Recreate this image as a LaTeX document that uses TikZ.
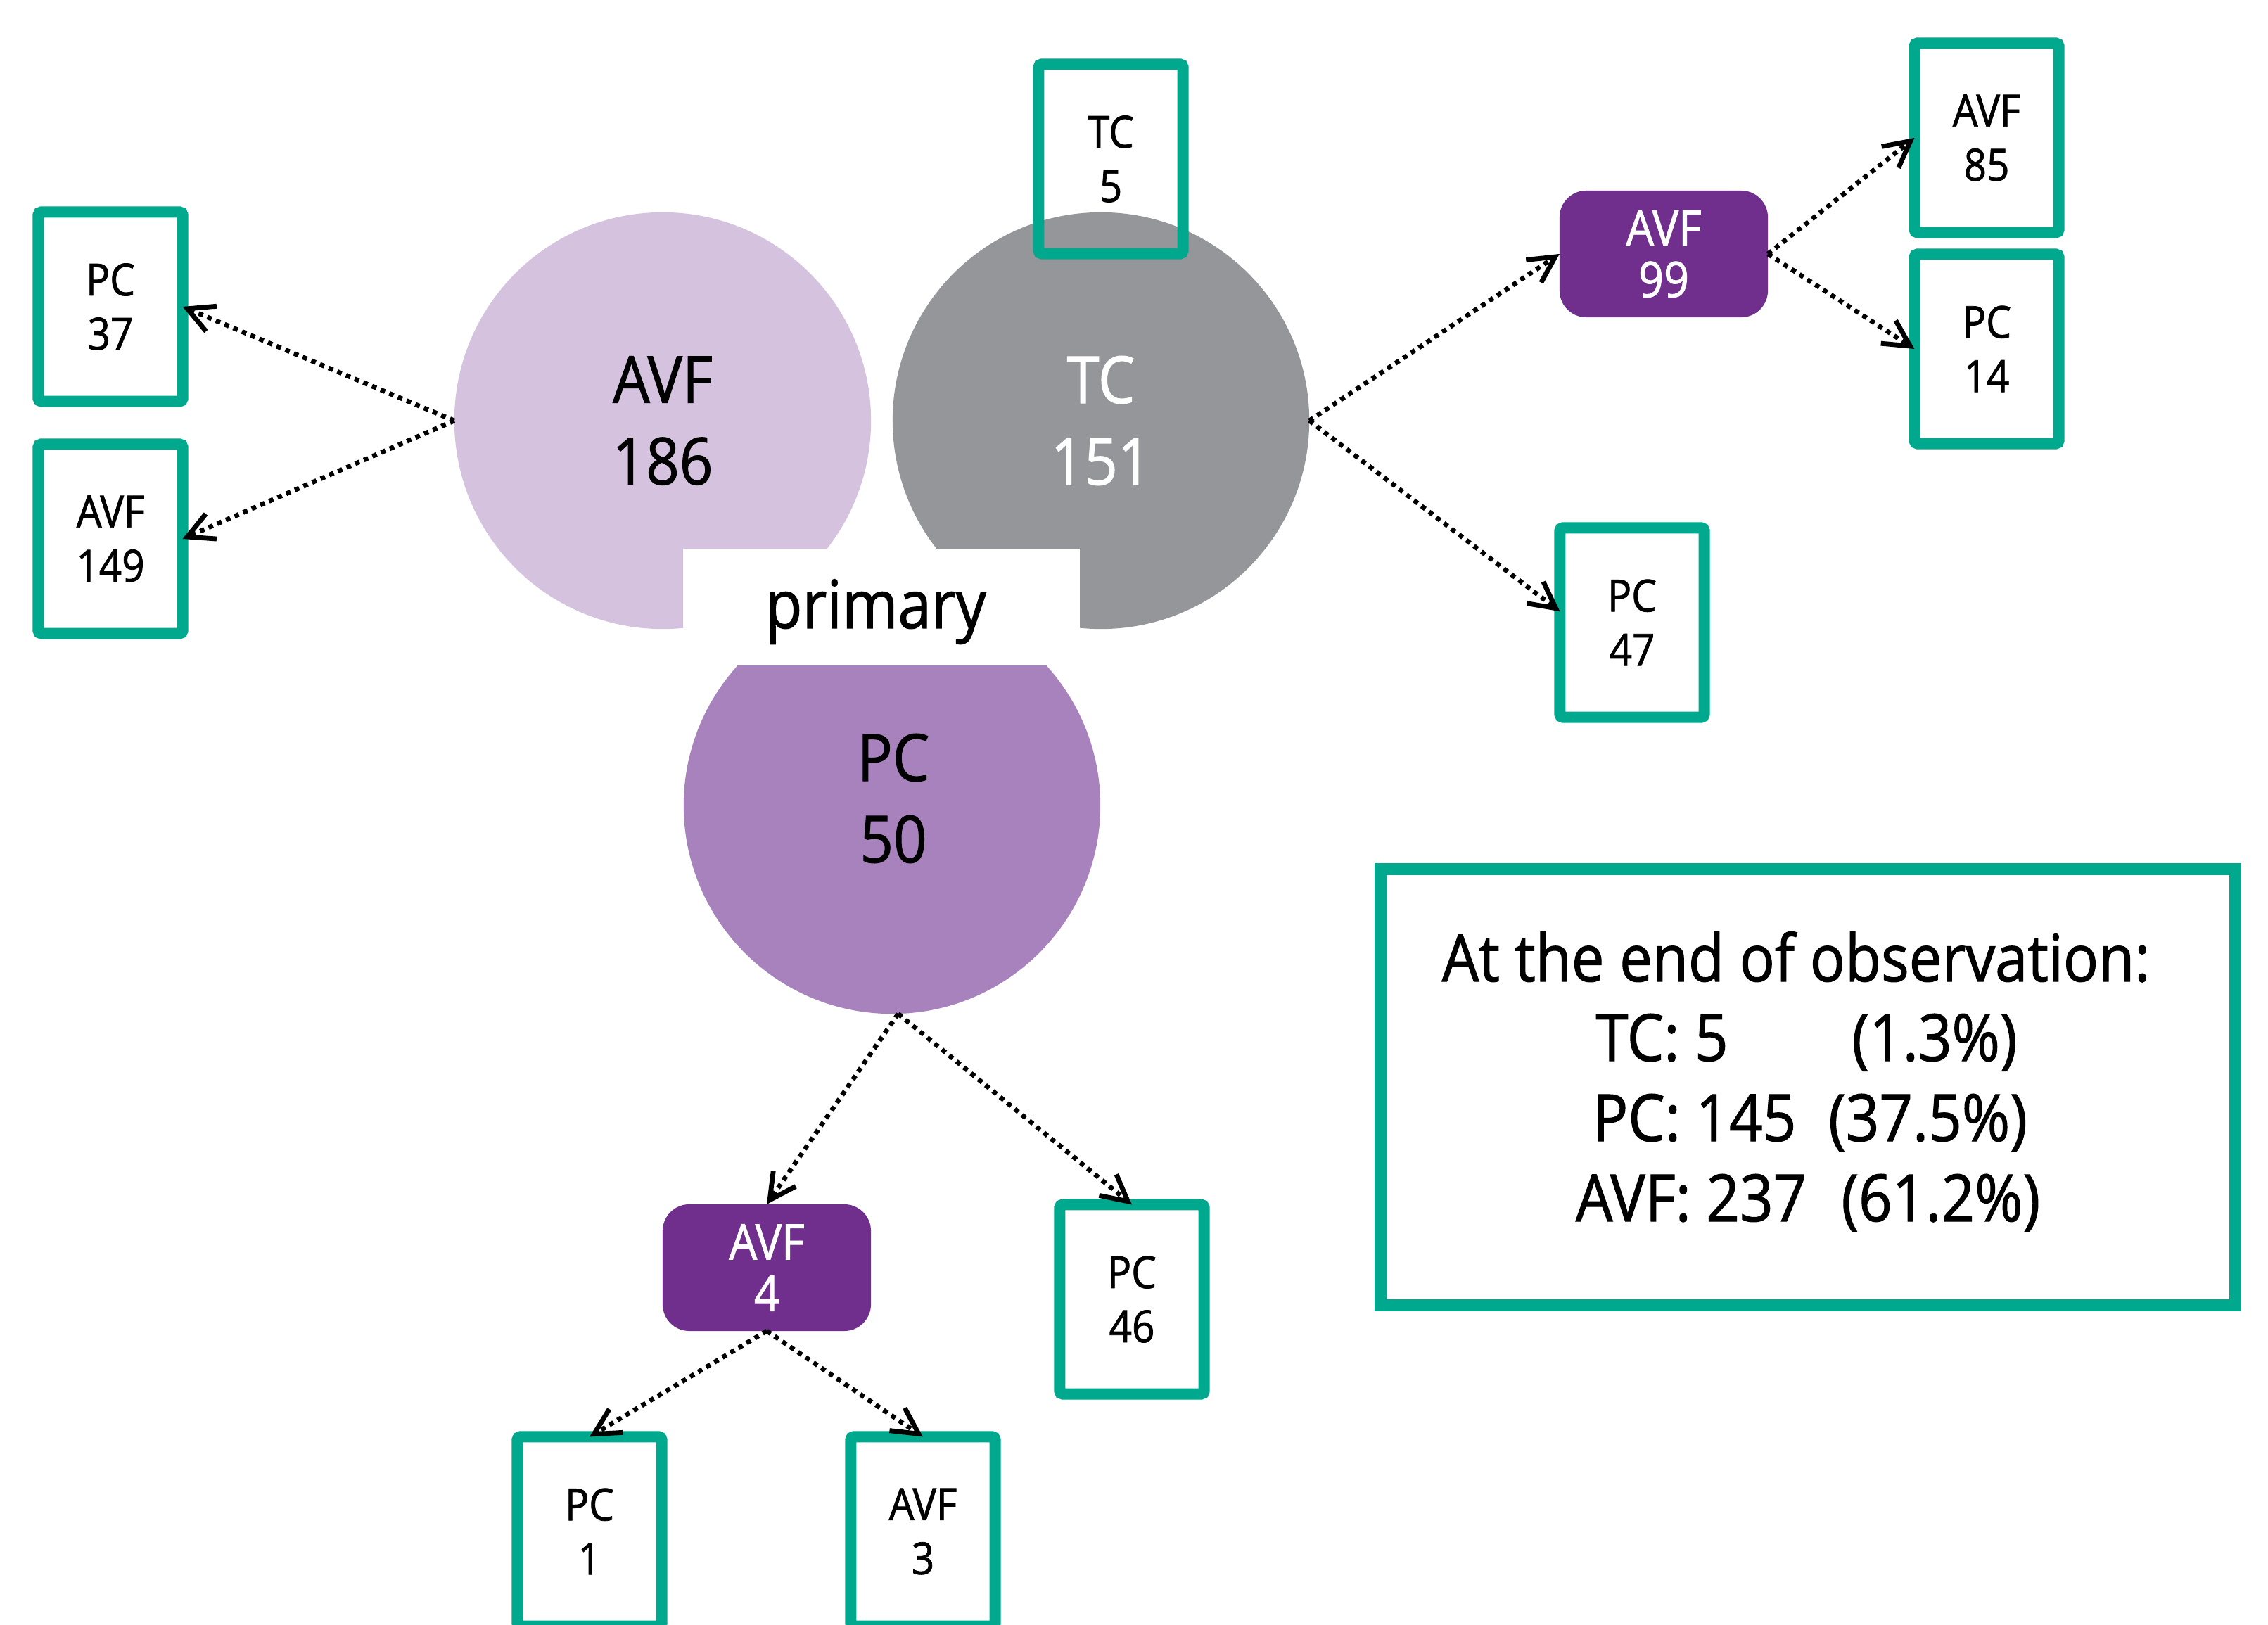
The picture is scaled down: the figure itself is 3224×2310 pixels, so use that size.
\documentclass[tikz,border=0pt]{standalone}
\usepackage{fontspec}
\setmainfont{Open Sans}[FakeStretch=0.9, FakeBold=1.2]
\usetikzlibrary{arrows.meta}
\definecolor{tealc}{HTML}{00A88E}
\definecolor{avfc}{HTML}{D4C2DE}
\definecolor{tcc}{HTML}{95969A}
\definecolor{pcc}{HTML}{A882BC}
\definecolor{darkp}{HTML}{702F8D}
\begin{document}
\begin{tikzpicture}[x=0.01cm,y=-0.01cm,
  bigc/.style={circle, inner sep=0pt, outer sep=0pt, minimum size=5.92cm, align=center, font=\fontsize{26.3}{33}\selectfont},
  bigtxt/.style={inner sep=0pt, align=center, font=\fontsize{26.3}{33}\selectfont},
  tbox/.style={draw=tealc, line width=4.55pt, rounded corners=1.2pt, inner sep=0pt, outer sep=0pt, minimum width=2.05cm, minimum height=2.69cm, align=center, font=\fontsize{17.9}{21.9}\selectfont},
  pbox/.style={fill=darkp, rounded corners=10.8pt, inner sep=0pt, outer sep=0pt, minimum width=2.96cm, minimum height=1.80cm, align=center, text=white, font=\fontsize{19.9}{20.8}\selectfont},
  sumtext/.style={anchor=base, inner sep=0pt, font=\fontsize{26.3}{33}\selectfont},
  flow/.style={line width=1.9pt, dash pattern=on 1.9pt off 1.9pt, -{Straight Barb[length=10.5pt, width=11pt, line width=1.95pt]}},
]
\clip (0,0) rectangle (3224,2310);
% main circles
\node[bigc, fill=avfc] (avf) at (942,598) {AVF\\186};
\node[bigc, fill=tcc, text=white] (tc) at (1565,598) {TC\\151};
\node[bigc, fill=pcc] (pc) at (1268,1145) {};
\node[bigtxt] (pclbl) at (1270,1135) {PC\\50};
% primary label
\node[fill=white, inner sep=0pt, outer sep=0pt, minimum width=5.63cm, minimum height=1.66cm] (primbox) at (1253,863) {};
\node[anchor=base, inner sep=0pt, font=\fontsize{27}{30}\selectfont] (prim) at (1245,893) {primary};
% outcome boxes
\node[tbox] (pc37) at (157,436) {PC\\37};
\node[tbox] (avf149) at (157,766) {AVF\\149};
\node[tbox] (tc5) at (1579,226) {TC\\5};
\node[tbox] (avf85) at (2824,196) {AVF\\85};
\node[tbox] (pc14) at (2824,496) {PC\\14};
\node[tbox] (pc47) at (2320,885) {PC\\47};
\node[tbox] (pc46) at (1609,1847) {PC\\46};
\node[tbox] (avf3) at (1312,2177) {AVF\\3};
\node[tbox] (pc1) at (838,2177) {PC\\1};
% intermediate boxes
\node[pbox] (avf99) at (2365,361) {AVF\\99};
\node[pbox] (avf4) at (1090,1802) {AVF\\4};
% summary
\node[draw=tealc, line width=4.84pt, minimum width=12.15cm, minimum height=6.20cm, inner sep=0pt, outer sep=0pt] (sumbox) at (2570,1545.5) {};
\node[sumtext] (s1) at (2553,1395) {At the end of observation:};
\node[sumtext] (s2) at (2568,1508) {TC: 5\hspace{50pt}(1.3\%)};
\node[sumtext] (s3) at (2573,1622) {PC: 145\hspace{13pt}(37.5\%)};
\node[sumtext] (s4) at (2570,1736) {AVF: 237\hspace{14pt}(61.2\%)};
% connectors
\draw[flow] (avf.west) -- (pc37.east);
\draw[flow] (avf.west) -- (avf149.east);
\draw[flow] (tc.east) -- (avf99.west);
\draw[flow] (tc.east) -- ([yshift=4.5pt]pc47.west);
\draw[flow] (avf99.east) -- (avf85.west);
\draw[flow] (avf99.east) -- (pc14.west);
\draw[flow] ([xshift=2.5pt]pc.south) -- (avf4.north);
\draw[flow] ([xshift=2.5pt]pc.south) -- (pc46.north);
\draw[flow] (avf4.south) -- (pc1.north);
\draw[flow] (avf4.south) -- (avf3.north);
\end{tikzpicture}
\end{document}
